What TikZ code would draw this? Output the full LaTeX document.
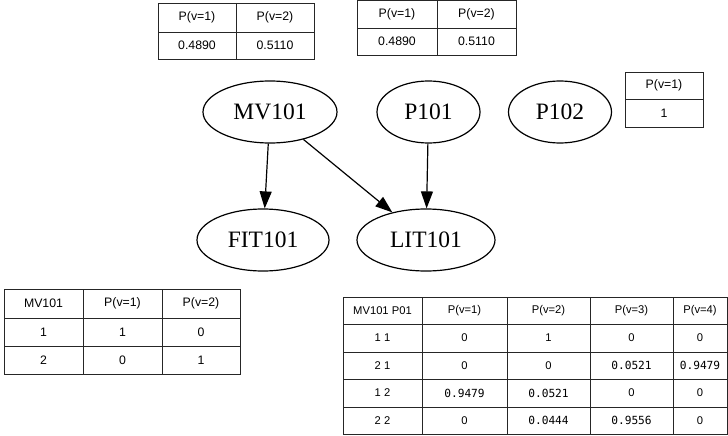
\documentclass[tikz,border=0pt]{standalone}
\usepackage{fontspec}
\setmainfont{Liberation Serif}
\setsansfont{Liberation Sans}
\setmonofont{DejaVu Sans Mono}
\usetikzlibrary{arrows.meta,shapes.geometric}

\tikzset{
  var/.style={ellipse,draw,line width=1.2pt,inner sep=0pt,minimum height=62pt,
    font=\fontsize{23.5}{28}\selectfont},
  cell/.style={font=\sffamily\fontsize{12.3}{14}\selectfont},
  smallcell/.style={font=\sffamily\fontsize{11.2}{13}\selectfont},
  tabline/.style={draw=black!85,line width=0.9pt}
}

\begin{document}
\begin{tikzpicture}[x=1pt,y=-1pt,>={Triangle[length=17pt,width=12pt]},line width=1.2pt]
  \useasboundingbox (0,0) rectangle (728,436);

  % network
  \node[var,minimum width=134pt] (mv101) at (270,112) {MV101};
  \node[var,minimum width=103pt] (p101) at (428.5,112) {P101};
  \node[var,minimum width=103pt] (p102) at (560,112) {P102};
  \node[var,minimum width=132pt] (fit101) at (263,240) {FIT101};
  \node[var,minimum width=138pt] (lit101) at (426,240) {LIT101};

  \draw[->] (mv101) -- (fit101);
  \draw[->] (mv101) -- (lit101);
  \draw[->] (p101) -- (lit101);

  % table of MV101
  \draw[tabline] (158,3) rectangle (314,59) (236,3) -- (236,59) (158,32) -- (314,32);
  \node[cell] (mv-h1) at (197,17.5) {P(v=1)};
  \node[cell] (mv-h2) at (275,17.5) {P(v=2)};
  \node[cell] (mv-v1) at (197,45.5) {0.4890};
  \node[cell] (mv-v2) at (275,45.5) {0.5110};

  % table of P101
  \draw[tabline] (357,0.5) rectangle (516,55) (437,0.5) -- (437,55) (357,28) -- (516,28);
  \node[cell] (p1-h1) at (397,14) {P(v=1)};
  \node[cell] (p1-h2) at (476.5,14) {P(v=2)};
  \node[cell] (p1-v1) at (397,41.5) {0.4890};
  \node[cell] (p1-v2) at (476.5,41.5) {0.5110};

  % table of P102
  \draw[tabline] (625,72) rectangle (703,127) (625,99) -- (703,99);
  \node[cell] (p2-h1) at (664,85.5) {P(v=1)};
  \node[cell] (p2-v1) at (664,113) {1};

  % table of FIT101
  \draw[tabline] (4,289) rectangle (240,374);
  \foreach \x in {83,162} \draw[tabline] (\x,289) -- (\x,374);
  \foreach \y in {318,346} \draw[tabline] (4,\y) -- (240,\y);
  \foreach \r/\y/\a/\b/\c in {0/303.5/MV101/P(v=1)/P(v=2), 1/332/1/1/0, 2/360/2/0/1} {
    \node[cell] (ft-\r-0) at (43.5,\y) {\a};
    \node[cell] (ft-\r-1) at (122.5,\y) {\b};
    \node[cell] (ft-\r-2) at (201,\y) {\c};
  }

  % table of LIT101
  \draw[tabline] (343,297) rectangle (727,434);
  \foreach \x in {422,507,590,673} \draw[tabline] (\x,297) -- (\x,434);
  \foreach \y in {324,352,379,407} \draw[tabline] (343,\y) -- (727,\y);
  \foreach \r/\y/\a/\b/\c/\d/\e in {
      0/310.5/MV101 P01/P(v=1)/P(v=2)/P(v=3)/P(v=4),
      1/338/1 1/0/1/0/0,
      2/365.5/2 1/0/0/\texttt{0.0521}/\texttt{0.9479},
      3/393/1 2/\texttt{0.9479}/\texttt{0.0521}/0/0,
      4/420.5/2 2/0/\texttt{0.0444}/\texttt{0.9556}/0} {
    \node[smallcell] (lt-\r-0) at (382.5,\y) {\a};
    \node[smallcell] (lt-\r-1) at (464.5,\y) {\b};
    \node[smallcell] (lt-\r-2) at (548.5,\y) {\c};
    \node[smallcell] (lt-\r-3) at (631.5,\y) {\d};
    \node[smallcell] (lt-\r-4) at (700,\y) {\e};
  }
\end{tikzpicture}
\end{document}
